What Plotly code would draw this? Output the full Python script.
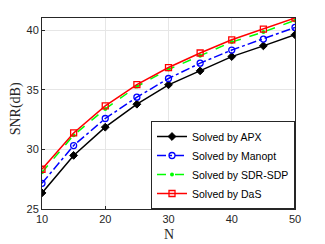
import plotly.graph_objects as go

N = [10, 15, 20, 25, 30, 35, 40, 45, 50]
apx = [26.35, 29.5, 31.87, 33.8, 35.43, 36.6, 37.8, 38.7, 39.63]
manopt = [27.16, 30.33, 32.6, 34.39, 35.96, 37.25, 38.35, 39.27, 40.25]
sdr = [28.08, 31.2, 33.4, 35.29, 36.72, 37.87, 39.02, 39.86, 40.84]
das = [28.34, 31.39, 33.66, 35.45, 36.88, 38.1, 39.21, 40.11, 41.04]

fig = go.Figure()
fig.add_trace(go.Scatter(x=N, y=apx, name="Solved by APX", mode="lines+markers",
                         line=dict(color="black", width=1.5),
                         marker=dict(symbol="diamond", size=6, color="black",
                                     line=dict(color="black", width=1))))
fig.add_trace(go.Scatter(x=N, y=manopt, name="Solved by Manopt", mode="lines+markers",
                         line=dict(color="blue", width=1.5, dash="dashdot"),
                         marker=dict(symbol="circle-open", size=6, color="blue",
                                     line=dict(color="blue", width=1.3))))
fig.add_trace(go.Scatter(x=N, y=sdr, name="Solved by SDR-SDP", mode="lines+markers",
                         line=dict(color="#00ff00", width=1.5, dash="dash"),
                         marker=dict(symbol="circle", size=4, color="#00ff00")))
fig.add_trace(go.Scatter(x=N, y=das, name="Solved by DaS", mode="lines+markers",
                         line=dict(color="red", width=1.5),
                         marker=dict(symbol="square-open", size=6, color="red",
                                     line=dict(color="red", width=1.3))))

axis_common = dict(showline=True, linecolor="#262626", linewidth=1, mirror=True,
                   ticks="inside", ticklen=3, tickcolor="#262626", automargin=False,
                   showgrid=True, gridcolor="#e6e6e6", gridwidth=1, zeroline=False,
                   tickfont=dict(family="Liberation Sans, Arial", size=11, color="#262626"))

serif = dict(family="Liberation Serif, Times New Roman", size=14, color="#262626")

fig.update_layout(
    width=325, height=244,
    margin=dict(l=42, r=30, t=18, b=35, autoexpand=False),
    plot_bgcolor="white", paper_bgcolor="white",
    showlegend=True,
    legend=dict(x=1, y=0, xanchor="right", yanchor="bottom",
                bgcolor="white", bordercolor="#262626", borderwidth=1,
                font=dict(family="Liberation Sans, Arial", size=10.5, color="black"),
                tracegroupgap=0, itemwidth=30),
    xaxis=dict(range=[10, 50], tickvals=[10, 20, 30, 40, 50], **axis_common),
    yaxis=dict(range=[25, 41.04], tickvals=[25, 30, 35, 40], **axis_common),
    annotations=[
        dict(text="N", xref="paper", yref="paper", x=0.5, y=-0.131, xanchor="center",
             yanchor="middle", showarrow=False, font=serif),
        dict(text="SNR(dB)", xref="paper", yref="paper", x=-0.105, y=0.524, xanchor="center",
             yanchor="middle", showarrow=False, textangle=-90, font=serif),
    ],
)

fig.write_html("out.html", config={"displayModeBar": False},
               post_script="document.body.style.margin='0';")
